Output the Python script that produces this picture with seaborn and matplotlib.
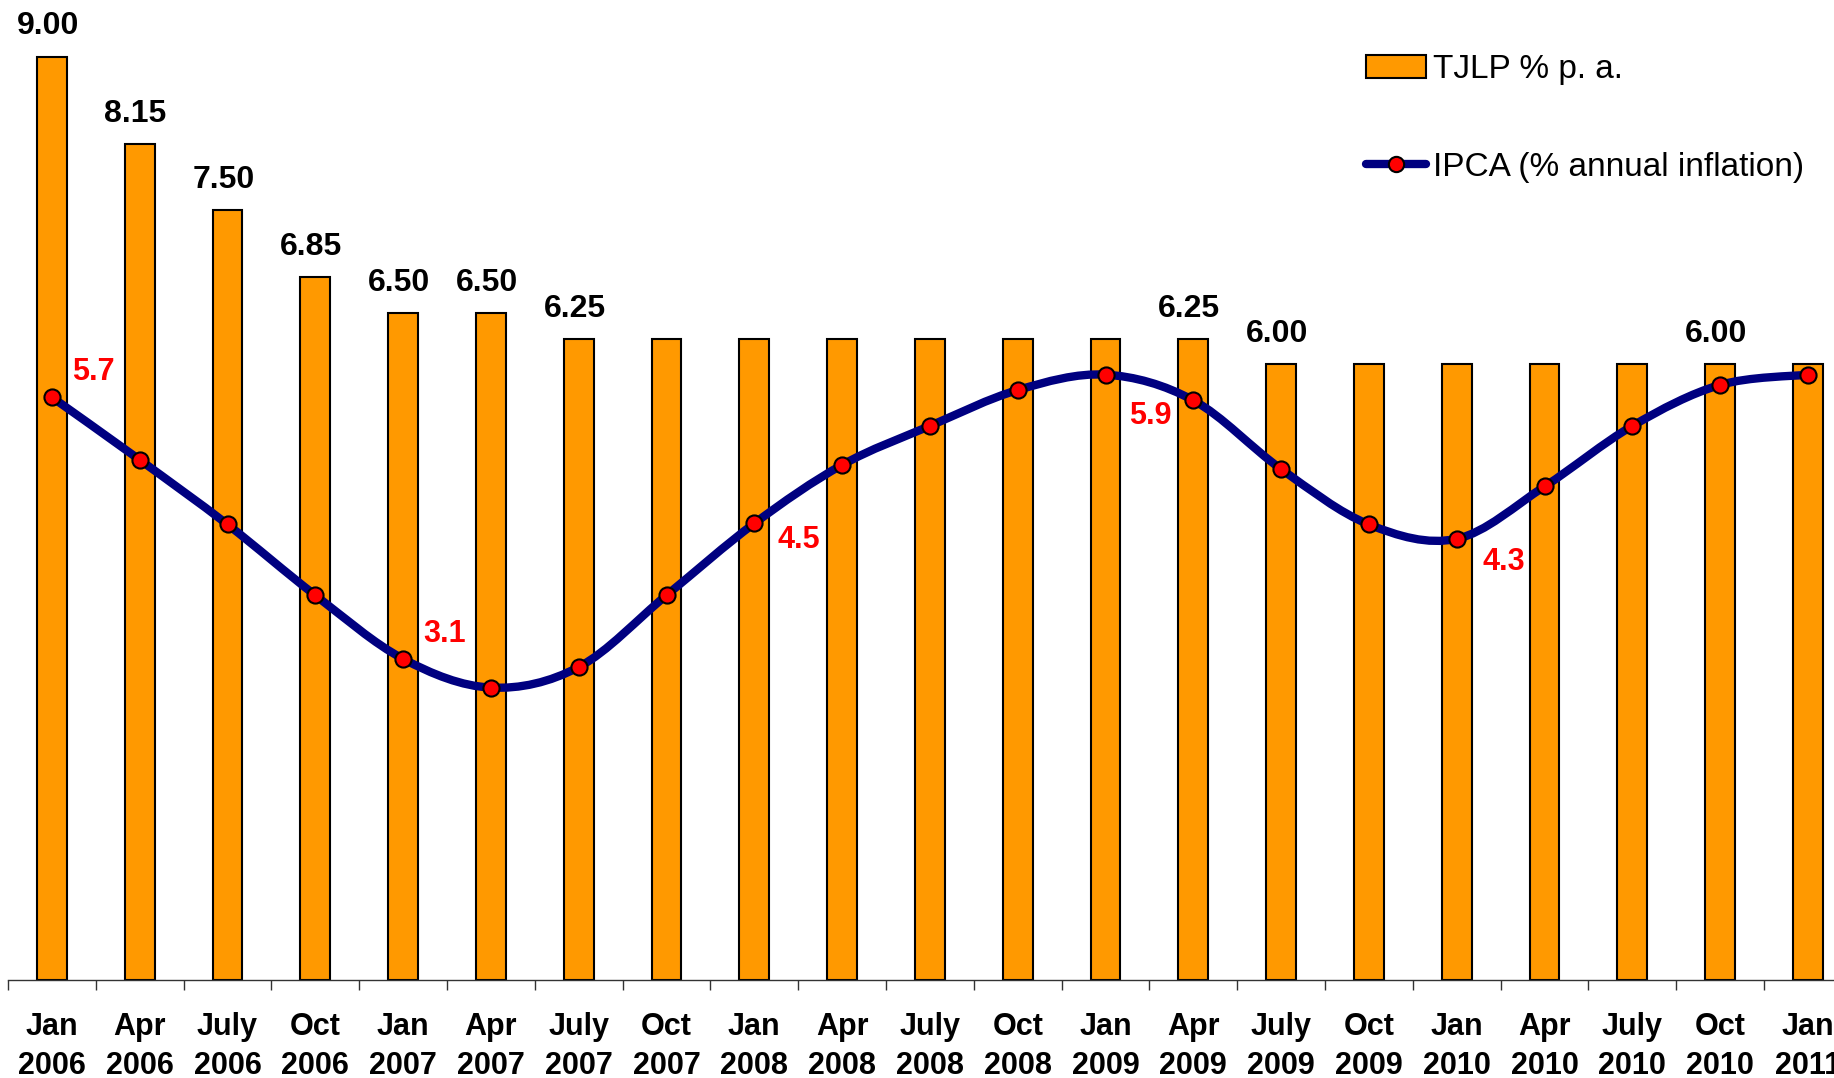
import numpy as np
import pandas as pd
import matplotlib
matplotlib.use("Agg")
import matplotlib.pyplot as plt
import seaborn as sns
from matplotlib.path import Path
from matplotlib.patches import PathPatch
from matplotlib.lines import Line2D
from matplotlib.patches import Patch

months = ["Jan", "Apr", "July", "Oct"] * 5 + ["Jan"]
years = ["2006"] * 4 + ["2007"] * 4 + ["2008"] * 4 + ["2009"] * 4 + ["2010"] * 4 + ["2011"]
categories = [f"{m}\n{y}" for m, y in zip(months, years)]
tjlp = [9.00, 8.15, 7.50, 6.85, 6.50, 6.50, 6.25, 6.25, 6.25, 6.25, 6.25,
        6.25, 6.25, 6.25, 6.00, 6.00, 6.00, 6.00, 6.00, 6.00, 6.00]
ipca = [5.68, 5.07, 4.44, 3.75, 3.13, 2.85, 3.05, 3.75, 4.45, 5.02, 5.40,
        5.75, 5.90, 5.65, 4.98, 4.44, 4.30, 4.81, 5.40, 5.80, 5.90]
tjlp_labeled = [0, 1, 2, 3, 4, 5, 6, 13, 14, 19]
ipca_labels = {0: "5.7", 4: "3.1", 8: "4.5", 12: "5.9", 16: "4.3"}
ipca_offsets = {0: (30, 18), 4: (30, 18), 8: (32, -12), 12: (32, -30), 16: (34, -17)}

df = pd.DataFrame({"cat": categories, "tjlp": tjlp, "ipca": ipca, "pos": np.arange(len(categories))})

sns.set_theme(style="white")
plt.rcParams["font.family"] = ["Liberation Sans", "DejaVu Sans"]
plt.rcParams["text.color"] = "black"

fig = plt.figure(figsize=(18.34, 10.78), dpi=100)
ax = fig.add_axes([8 / 1834, (1078 - 980) / 1078, 1 - 8 / 1834, 980 / 1078])

sns.barplot(data=df, x="cat", y="tjlp", color="#FF9900", saturation=1,
            edgecolor="black", linewidth=1.5, width=0.34, ax=ax, zorder=2)

# smoothed line (Catmull-Rom style Bezier, as in spreadsheet smoothing)
x = df["pos"].to_numpy(dtype=float)
y = df["ipca"].to_numpy(dtype=float)
P = np.column_stack([x, y])
verts = [P[0]]
codes = [Path.MOVETO]
n = len(P)
for i in range(n - 1):
    p0 = P[i - 1] if i > 0 else P[i]
    p1 = P[i]
    p2 = P[i + 1]
    p3 = P[i + 2] if i + 2 < n else P[i + 1]
    c1 = p1 + (p2 - p0) / 6.0
    c2 = p2 - (p3 - p1) / 6.0
    verts += [c1, c2, p2]
    codes += [Path.CURVE4] * 3
ax.add_patch(PathPatch(Path(verts, codes), facecolor="none", edgecolor="#000080",
                       lw=6, zorder=3, capstyle="round", joinstyle="round"))
sns.scatterplot(data=df, x="pos", y="ipca", ax=ax, color="#FF0000", edgecolor="black",
                linewidth=1.5, s=135, zorder=4, legend=False)

for i in tjlp_labeled:
    ax.annotate(f"{tjlp[i]:.2f}", (i, tjlp[i]), xytext=(-3, 16), textcoords="offset points",
                ha="center", va="baseline", fontsize=23, fontweight="bold", color="black")
for i, t in ipca_labels.items():
    ax.annotate(t, (i, ipca[i]), xytext=ipca_offsets[i], textcoords="offset points",
                ha="center", va="center", fontsize=22, fontweight="bold", color="#FF0000")

# axes span 8 px .. 1834 px; category spacing 87.8 px
ax.set_ylim(0, 980 / 102.6)
ax.set_xlabel("")
ax.set_ylabel("")
ax.set_yticks([])
ax.set_xticks(range(len(categories)))
ax.set_xticklabels(categories, fontsize=22, fontweight="bold", linespacing=1.4)
ax.set_xticks(np.arange(-0.5, len(categories) + 0.5, 1), minor=True)
ax.tick_params(axis="x", which="major", length=0, pad=23, colors="black")
ax.tick_params(axis="x", which="minor", length=7, width=1, color="#333333", direction="out", bottom=True)
for s in ["left", "top", "right"]:
    ax.spines[s].set_visible(False)
ax.spines["bottom"].set_color("#333333")
ax.spines["bottom"].set_linewidth(1)
ax.set_xlim(-0.5, -0.5 + (1834 - 8) / 87.8)

handles = [Patch(facecolor="#FF9900", edgecolor="black", linewidth=1.5),
           Line2D([0], [0], color="#000080", lw=6, marker="o", markersize=11,
                  markerfacecolor="#FF0000", markeredgecolor="black", markeredgewidth=1.5)]
leg = fig.legend(handles, ["TJLP % p. a.", "IPCA (% annual inflation)"], loc="upper left",
                 bbox_to_anchor=(1366 / 1834, 1 - 54 / 1078), frameon=False, fontsize=24,
                 handlelength=1.8, handletextpad=0.2, labelspacing=2.0, borderpad=0, borderaxespad=0)
for t in leg.get_texts():
    t.set_color("black")

fig.savefig("out.png", dpi=100)
